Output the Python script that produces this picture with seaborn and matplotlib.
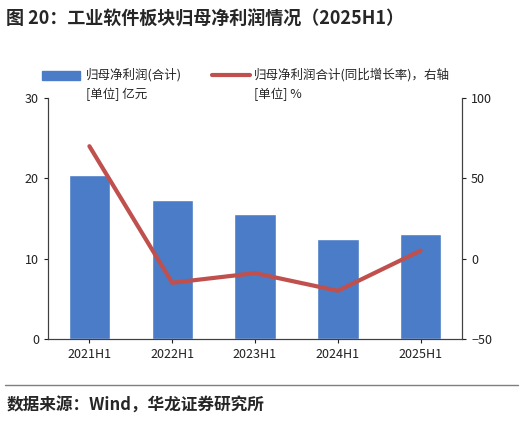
import matplotlib
matplotlib.use("Agg")
import matplotlib.pyplot as plt
import seaborn as sns
import pandas as pd

categories = ["2021H1", "2022H1", "2023H1", "2024H1", "2025H1"]
profit = [20.4, 17.3, 15.6, 12.4, 13.1]
growth = [70, -15, -9, -20, 5]

sns.set_style("white")
plt.rcParams['font.family'] = ['Noto Sans CJK SC', 'DejaVu Sans']

fig = plt.figure(figsize=(5.23, 4.23), dpi=100)
ax = fig.add_axes([48/523, 1-339/423, (462-48)/523, (339-98)/423])
df = pd.DataFrame({"c": categories, "v": profit})
sns.barplot(data=df, x="c", y="v", color="#4A7CC7", width=0.5, ax=ax, saturation=1)
ax.set_ylim(0, 30)
ax.set_yticks([0, 10, 20, 30])
ax.set_xlabel(""); ax.set_ylabel("")
ax2 = ax.twinx()
sns.lineplot(x=list(range(5)), y=growth, color="#C0504D", lw=3, ax=ax2)
ax2.set_ylim(-50, 100)
ax2.set_yticks([-50, 0, 50, 100])
ax.set_xlim(-0.5, 4.5)
for a in (ax, ax2):
    a.spines['top'].set_visible(False)
    for s in ['left', 'right', 'bottom']:
        a.spines[s].set_color('#404040')
    a.tick_params(labelsize=9, colors='#202020', length=3, direction='out')
ax.tick_params(axis='y', left=True)
ax2.tick_params(axis='y', right=True)
ax.tick_params(axis='x', bottom=True)

fig.text(0.012, 0.955, "图 20：工业软件板块归母净利润情况（2025H1）", fontsize=13, fontweight='bold', va='center')
# legend
fig.patches.append(plt.Rectangle((42/523, 1-80/423), 38/523, 9/423, color="#4A7CC7", transform=fig.transFigure))
fig.text(86/523, 1-75/423, "归母净利润(合计)", fontsize=9, va='center')
fig.text(86/523, 1-94/423, "[单位] 亿元", fontsize=9, va='center')
fig.lines.append(plt.Line2D([212/523, 250/523], [1-75/423, 1-75/423], color="#C0504D", lw=3, transform=fig.transFigure))
fig.text(254/523, 1-75/423, "归母净利润合计(同比增长率)，右轴", fontsize=9, va='center')
fig.text(254/523, 1-94/423, "[单位] %", fontsize=9, va='center')
fig.lines.append(plt.Line2D([0.01, 0.99], [1-385/423, 1-385/423], color='#7f7f7f', lw=1, transform=fig.transFigure))
fig.text(0.012, 1-406/423, "数据来源：Wind，华龙证券研究所", fontsize=12, fontweight='bold', va='center')
fig.savefig("out.png", dpi=100)
